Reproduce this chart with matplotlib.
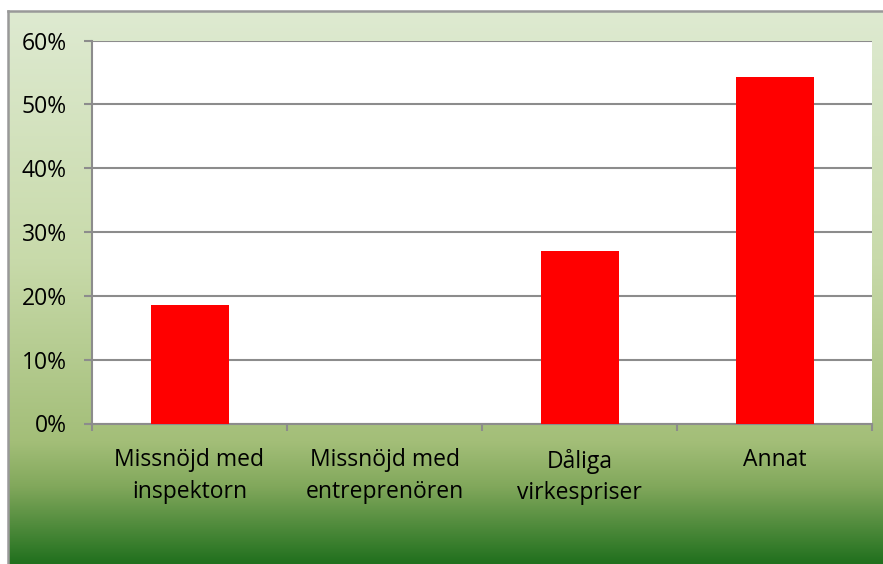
import numpy as np
import matplotlib.pyplot as plt
from matplotlib.colors import LinearSegmentedColormap
from matplotlib.ticker import PercentFormatter

# data
categories = ['Missnöjd med\ninspektorn', 'Missnöjd med\nentreprenören',
              'Dåliga\nvirkespriser', 'Annat']
values = [18.5, 0.0, 27.1, 54.3]
yticks = [0, 10, 20, 30, 40, 50, 60]

plt.rcParams['font.family'] = ['Open Sans', 'DejaVu Sans']

W, H = 883, 564
fig = plt.figure(figsize=(W / 100, H / 100), dpi=100)
fig.patch.set_facecolor('white')

# gradient background of chart area
bg = fig.add_axes([0, 0, 1, 1], zorder=0)
bg.set_xlim(0, W)
bg.set_ylim(H, 0)
bg.axis('off')
grad = LinearSegmentedColormap.from_list('g', [
    (0.0, (222/255, 234/255, 209/255)),
    (0.45, (200/255, 218/255, 170/255)),
    (0.78, (163/255, 190/255, 120/255)),
    (0.86, (130/255, 168/255, 92/255)),
    (1.0, (33/255, 112/255, 30/255)),
])
g = np.linspace(0, 1, 256).reshape(-1, 1)
bg.imshow(g, cmap=grad, aspect='auto', extent=(8, W + 2, H, 11), zorder=0)
bg.plot([8, 8], [H, 11], color='#999999', lw=1.8, zorder=1)
bg.plot([8, W], [11, 11], color='#999999', lw=1.8, zorder=1)

# plot area
ax = fig.add_axes([92 / W, 1 - 423.5 / H, (872 - 92) / W, (423.5 - 40.5) / H], zorder=2)
ax.set_facecolor('white')
x = np.arange(len(categories))
ax.bar(x, values, width=0.4, color='#ff0000', zorder=3)

ax.set_xlim(-0.5, len(categories) - 0.5)
ax.set_ylim(0, 60)
ax.set_yticks(yticks)
ax.yaxis.set_major_formatter(PercentFormatter(decimals=0))
ax.grid(axis='y', color='#8c8c8c', lw=1.5, zorder=1)
ax.set_axisbelow(True)

for s in ['top', 'right']:
    ax.spines[s].set_visible(False)
for s in ['left', 'bottom']:
    ax.spines[s].set_color('#8c8c8c')
    ax.spines[s].set_linewidth(1.5)

ax.set_xticks(np.arange(-0.5, len(categories), 1.0))
ax.set_xticklabels([])
ax.set_xticks(x, minor=True)
ax.set_xticklabels(categories, minor=True, fontsize=16.5, linespacing=1.4)
ax.tick_params(axis='x', which='major', direction='out', length=5, width=1.5, color='#8c8c8c')
ax.tick_params(axis='x', which='minor', length=0, pad=18)
ax.tick_params(axis='y', direction='out', length=6, width=1.5, color='#8c8c8c',
               labelsize=16.5, pad=12)

fig.savefig('out.png', dpi=100)
